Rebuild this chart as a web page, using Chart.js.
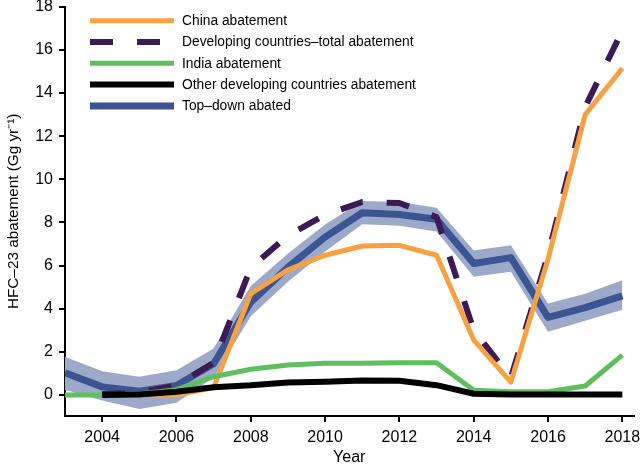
<!DOCTYPE html>
<html>
<head>
<meta charset="utf-8">
<script src="https://cdn.jsdelivr.net/npm/chart.js@4.4.0/dist/chart.umd.min.js"></script>
<style>
  html, body { margin: 0; padding: 0; background: #fff; }
  #wrap { width: 641px; height: 469px; }
</style>
</head>
<body>
<div id="wrap"><canvas id="chart" width="641" height="469"></canvas></div>
<script>
// data (Gg/yr)
const years = [2003, 2004, 2005, 2006, 2007, 2008, 2009, 2010, 2011, 2012, 2013, 2014, 2015, 2016, 2017, 2018];
const xTicks = [2004, 2006, 2008, 2010, 2012, 2014, 2016, 2018];
const yTicks = [0, 2, 4, 6, 8, 10, 12, 14, 16, 18];

const chinaAbatement = [null, 0, 0, 0, 0.35, 4.7, 5.8, 6.48, 6.91, 6.94, 6.48, 2.55, 0.6, 6.3, 13.0, 15.15];
const developingTotal = [null, 0.05, 0.1, 0.45, 1.5, 5.9, 7.4, 8.35, 8.95, 8.9, 8.25, 3.0, 0.8, 6.5, 13.35, 16.9];
const indiaAbatement = [0, 0, 0.05, 0.25, 0.85, 1.2, 1.39, 1.47, 1.47, 1.5, 1.5, 0.22, 0.15, 0.15, 0.42, 1.85];
const otherDeveloping = [null, 0, 0.03, 0.15, 0.36, 0.45, 0.58, 0.62, 0.68, 0.66, 0.46, 0.06, 0.03, 0.03, 0.03, 0.03];
const topDown = [1.03, 0.38, 0.18, 0.44, 1.45, 4.3, 5.92, 7.32, 8.45, 8.37, 8.15, 6.1, 6.37, 3.6, 4.05, 4.6];
const topDownUpper = [1.78, 1.1, 0.85, 1.15, 2.16, 5.05, 6.56, 7.9, 9.0, 8.95, 8.68, 6.7, 6.94, 4.24, 4.7, 5.32];
const topDownLower = [0.25, -0.25, -0.65, -0.36, 0.82, 3.65, 5.25, 6.65, 7.92, 7.85, 7.58, 5.48, 5.72, 2.93, 3.45, 3.95];

const legendLabels = [
  "China abatement",
  "Developing countries\u2013total abatement",
  "India abatement",
  "Other developing countries abatement",
  "Top\u2013down abated"
];

const FONT = '"Liberation Sans", Arial, Helvetica, sans-serif';
Chart.defaults.font.family = FONT;
Chart.defaults.color = "#000";

const pts = (vals) => years.map((yr, i) => ({ x: yr, y: vals[i] }));

// custom legend in the top-left corner of the plot
const legendPlugin = {
  id: "cornerLegend",
  afterDraw(chart) {
    const ctx = chart.ctx;
    ctx.save();
    [0, 1, 2, 3, 4].forEach((idx, row) => {
      const ds = chart.data.datasets[idx];
      const y = 20.7 + row * 21.3;
      ctx.beginPath();
      ctx.strokeStyle = ds.borderColor;
      ctx.lineWidth = ds.borderWidth;
      ctx.lineCap = "butt";
      ctx.setLineDash(ds.borderDash || []);
      ctx.moveTo(90, y);
      ctx.lineTo(174, y);
      ctx.stroke();
      ctx.setLineDash([]);
      ctx.fillStyle = "#000";
      ctx.font = "13.8px " + FONT;
      ctx.textBaseline = "middle";
      ctx.fillText(ds.label, 182, y + 0.5);
    });
    ctx.restore();
  }
};

const lineBase = { pointRadius: 0, tension: 0, fill: false, borderJoinStyle: "round", borderCapStyle: "butt" };

new Chart(document.getElementById("chart"), {
  type: "line",
  data: {
    datasets: [
      { ...lineBase, label: legendLabels[0], data: pts(chinaAbatement), borderColor: "#f7a143", borderWidth: 5, order: 2 },
      { ...lineBase, label: legendLabels[1], data: pts(developingTotal), borderColor: "#3d1a56", borderWidth: 6, borderDash: [23, 24], order: 3 },
      { ...lineBase, label: legendLabels[2], data: pts(indiaAbatement), borderColor: "#5fbf5f", borderWidth: 5, order: 1 },
      { ...lineBase, label: legendLabels[3], data: pts(otherDeveloping), borderColor: "#000000", borderWidth: 6, order: 0 },
      { ...lineBase, label: legendLabels[4], data: pts(topDown), borderColor: "#3c5592", borderWidth: 7, order: 4 },
      { ...lineBase, label: "lower", data: pts(topDownLower), borderWidth: 0, borderColor: "rgba(0,0,0,0)", order: 6 },
      { ...lineBase, label: "upper", data: pts(topDownUpper), borderWidth: 0, borderColor: "rgba(0,0,0,0)",
        backgroundColor: "#9ca9c9", fill: "-1", order: 5 }
    ]
  },
  options: {
    responsive: false,
    animation: false,
    layout: { padding: { top: 6.7, right: 7.5, left: 0, bottom: 0 } },
    plugins: { legend: { display: false }, tooltip: { enabled: false } },
    scales: {
      x: {
        type: "linear",
        min: 2003,
        max: 2018.3,
        afterBuildTicks: (s) => { s.ticks = xTicks.map(v => ({ value: v })); },
        afterFit: (s) => { s.height = 53; s.paddingLeft = 0; s.paddingRight = 0; },
        ticks: { font: { size: 16 }, color: "#000", padding: 6, maxRotation: 0, autoSkip: false,
          callback: (v) => String(v) },
        grid: { display: true, drawOnChartArea: false, drawTicks: true, tickLength: 6, color: "#000", lineWidth: 2 },
        border: { display: true, color: "#000", width: 2 },
        title: { display: true, text: "Year", font: { size: 16 }, color: "#000", padding: { top: 0, bottom: 1.4 } }
      },
      y: {
        type: "linear",
        min: -0.97,
        max: 18,
        afterBuildTicks: (s) => { s.ticks = yTicks.map(v => ({ value: v })); },
        afterFit: (s) => { s.width = 65; s.paddingTop = 0; s.paddingBottom = 0; },
        ticks: { font: { size: 16 }, color: "#000", padding: 6, callback: (v) => String(v) },
        grid: { display: true, drawOnChartArea: false, drawTicks: true, tickLength: 6, color: "#000", lineWidth: 2 },
        border: { display: true, color: "#000", width: 2 },
        title: { display: true, text: "HFC\u201323 abatement (Gg yr\u207B\u00B9)", font: { size: 15.3 }, color: "#000",
          padding: { top: 5, bottom: 0 } }
      }
    }
  },
  plugins: [legendPlugin]
});
</script>
</body>
</html>
